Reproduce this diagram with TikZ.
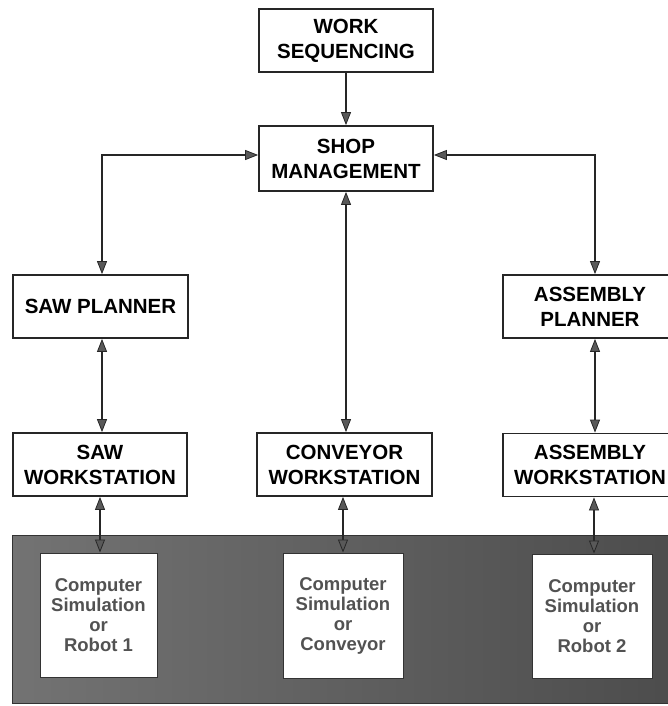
\documentclass[tikz,border=0pt]{standalone}
\usepackage{fontspec}
\setmainfont{Liberation Sans}
\usetikzlibrary{arrows.meta}
\begin{document}
\begin{tikzpicture}[x=1pt,y=-1pt,
  box/.style={draw=black!85, line width=1.8pt, fill=white, minimum width=174pt, minimum height=63pt,
    align=center, inner sep=0pt, font=\fontsize{20.5}{25}\selectfont\bfseries},
  simbox/.style={draw=black!80, line width=1pt, fill=white, align=center, inner sep=0pt,
    font=\fontsize{18.5}{20}\selectfont\bfseries, text=black!68},
  tip/.tip={Triangle[length=13pt,width=10pt,line width=0.8pt,fill=black!65]},
  dbl/.style={draw=black!85, line width=2.8pt, tip-tip},
  one/.style={draw=black!85, line width=2.8pt, -tip}]
\path[use as bounding box] (0,0) rectangle (668,706);
\clip (0,0) rectangle (668,706);
\shade[left color=black!55, right color=black!70, draw=black!80, line width=1pt] (12,535) rectangle (672,703);
% boxes
\node[box] (ws) at (346,40.5) {WORK\\SEQUENCING};
\node[box, minimum height=65pt] (sm) at (346,158.5) {SHOP\\MANAGEMENT};
\node[box, minimum width=175pt] (sp) at (100.5,306.5) {SAW PLANNER};
\node[box] (ap) at (590,306.5) {ASSEMBLY\\PLANNER};
\node[box] (sw) at (100,464.5) {SAW\\WORKSTATION};
\node[box, minimum width=175pt] (cw) at (344.5,464.5) {CONVEYOR\\WORKSTATION};
\node[box] (aw) at (590,465) {ASSEMBLY\\WORKSTATION};
\node[simbox, minimum width=117pt, minimum height=124pt] (r1) at (98.5,615) {Computer\\Simulation\\or\\Robot 1};
\node[simbox, minimum width=120pt, minimum height=125pt] (cn) at (343,615.5) {Computer\\Simulation\\or\\Conveyor};
\node[simbox, minimum width=120pt, minimum height=124pt] (r2) at (592,616) {Computer\\Simulation\\or\\Robot 2};
% connectors
\draw[one] (ws.south) -- (sm.north);
\draw[dbl] ([yshift=3.5pt]sm.west) -| ([xshift=1.5pt]sp.north);
\draw[dbl] ([yshift=3.5pt]sm.east) -| ([xshift=5pt]ap.north);
\draw[dbl] (sm.south) -- (sm.south |- cw.north);
\draw[dbl] ([xshift=1.5pt]sp.south) -- ([xshift=1.5pt]sp.south |- sw.north);
\draw[dbl] ([xshift=5pt]ap.south) -- ([xshift=5pt]ap.south |- aw.north);
\draw[dbl] (sw.south) -- (sw.south |- r1.north);
\draw[dbl] ([xshift=-1.5pt]cw.south) -- ([xshift=-1.5pt]cw.south |- cn.north);
\draw[dbl] ([xshift=4pt]aw.south) -- ([xshift=4pt]aw.south |- r2.north);
\end{tikzpicture}
\end{document}
